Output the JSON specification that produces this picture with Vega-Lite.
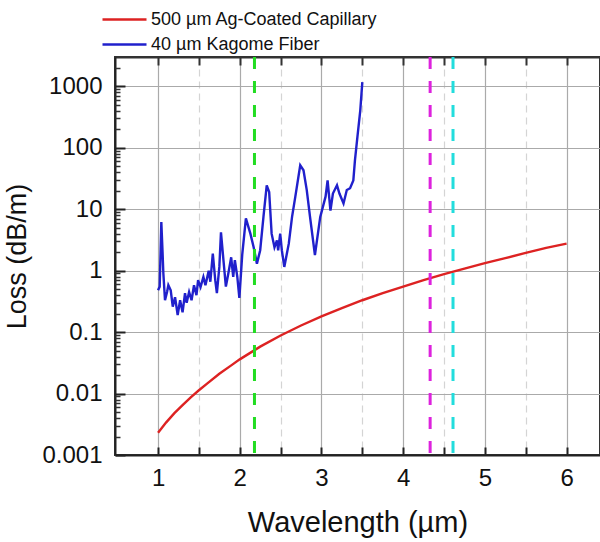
{
  "$schema": "https://vega.github.io/schema/vega-lite/v6.json",
  "autosize": {"type": "none"},
  "width": 485,
  "height": 398,
  "padding": {"left": 115, "top": 57, "right": 0, "bottom": 87},
  "background": "white",
  "config": {
    "font": "Liberation Sans",
    "view": {"stroke": "#333", "strokeWidth": 2},
    "axis": {"labelColor": "#111", "titleColor": "#111", "titleFontWeight": "normal", "labelFont": "Liberation Sans", "titleFont": "Liberation Sans"}
  },
  "datasets": {
    "curves": [
      {"series": "500 µm Ag-Coated Capillary", "wl": 1.0, "loss": 0.0023},
      {"series": "500 µm Ag-Coated Capillary", "wl": 1.1, "loss": 0.0034},
      {"series": "500 µm Ag-Coated Capillary", "wl": 1.2, "loss": 0.0048},
      {"series": "500 µm Ag-Coated Capillary", "wl": 1.3, "loss": 0.0065},
      {"series": "500 µm Ag-Coated Capillary", "wl": 1.4, "loss": 0.0087},
      {"series": "500 µm Ag-Coated Capillary", "wl": 1.5, "loss": 0.0113},
      {"series": "500 µm Ag-Coated Capillary", "wl": 1.6, "loss": 0.0145},
      {"series": "500 µm Ag-Coated Capillary", "wl": 1.75, "loss": 0.021},
      {"series": "500 µm Ag-Coated Capillary", "wl": 1.9, "loss": 0.029},
      {"series": "500 µm Ag-Coated Capillary", "wl": 2.0, "loss": 0.036},
      {"series": "500 µm Ag-Coated Capillary", "wl": 2.25, "loss": 0.058},
      {"series": "500 µm Ag-Coated Capillary", "wl": 2.5, "loss": 0.088},
      {"series": "500 µm Ag-Coated Capillary", "wl": 2.75, "loss": 0.128},
      {"series": "500 µm Ag-Coated Capillary", "wl": 3.0, "loss": 0.18},
      {"series": "500 µm Ag-Coated Capillary", "wl": 3.25, "loss": 0.245},
      {"series": "500 µm Ag-Coated Capillary", "wl": 3.5, "loss": 0.33},
      {"series": "500 µm Ag-Coated Capillary", "wl": 3.75, "loss": 0.43},
      {"series": "500 µm Ag-Coated Capillary", "wl": 4.0, "loss": 0.55},
      {"series": "500 µm Ag-Coated Capillary", "wl": 4.25, "loss": 0.70},
      {"series": "500 µm Ag-Coated Capillary", "wl": 4.5, "loss": 0.88},
      {"series": "500 µm Ag-Coated Capillary", "wl": 4.75, "loss": 1.08},
      {"series": "500 µm Ag-Coated Capillary", "wl": 5.0, "loss": 1.33},
      {"series": "500 µm Ag-Coated Capillary", "wl": 5.25, "loss": 1.6},
      {"series": "500 µm Ag-Coated Capillary", "wl": 5.5, "loss": 1.95},
      {"series": "500 µm Ag-Coated Capillary", "wl": 5.75, "loss": 2.35},
      {"series": "500 µm Ag-Coated Capillary", "wl": 6.0, "loss": 2.75},
      {"series": "40 µm Kagome Fiber", "wl": 1.0, "loss": 0.48},
      {"series": "40 µm Kagome Fiber", "wl": 1.02, "loss": 0.55},
      {"series": "40 µm Kagome Fiber", "wl": 1.04, "loss": 6.2},
      {"series": "40 µm Kagome Fiber", "wl": 1.055, "loss": 2.0},
      {"series": "40 µm Kagome Fiber", "wl": 1.065, "loss": 0.9},
      {"series": "40 µm Kagome Fiber", "wl": 1.085, "loss": 0.33},
      {"series": "40 µm Kagome Fiber", "wl": 1.11, "loss": 0.45},
      {"series": "40 µm Kagome Fiber", "wl": 1.126, "loss": 0.58},
      {"series": "40 µm Kagome Fiber", "wl": 1.155, "loss": 0.48},
      {"series": "40 µm Kagome Fiber", "wl": 1.18, "loss": 0.26},
      {"series": "40 µm Kagome Fiber", "wl": 1.208, "loss": 0.37},
      {"series": "40 µm Kagome Fiber", "wl": 1.24, "loss": 0.19},
      {"series": "40 µm Kagome Fiber", "wl": 1.27, "loss": 0.33},
      {"series": "40 µm Kagome Fiber", "wl": 1.30, "loss": 0.21},
      {"series": "40 µm Kagome Fiber", "wl": 1.33, "loss": 0.43},
      {"series": "40 µm Kagome Fiber", "wl": 1.35, "loss": 0.30},
      {"series": "40 µm Kagome Fiber", "wl": 1.38, "loss": 0.45},
      {"series": "40 µm Kagome Fiber", "wl": 1.41, "loss": 0.33},
      {"series": "40 µm Kagome Fiber", "wl": 1.44, "loss": 0.58},
      {"series": "40 µm Kagome Fiber", "wl": 1.47, "loss": 0.40},
      {"series": "40 µm Kagome Fiber", "wl": 1.49, "loss": 0.70},
      {"series": "40 µm Kagome Fiber", "wl": 1.52, "loss": 0.54},
      {"series": "40 µm Kagome Fiber", "wl": 1.555, "loss": 0.79},
      {"series": "40 µm Kagome Fiber", "wl": 1.58, "loss": 0.58},
      {"series": "40 µm Kagome Fiber", "wl": 1.62, "loss": 1.0},
      {"series": "40 µm Kagome Fiber", "wl": 1.64, "loss": 0.66},
      {"series": "40 µm Kagome Fiber", "wl": 1.67, "loss": 1.9},
      {"series": "40 µm Kagome Fiber", "wl": 1.70, "loss": 0.70},
      {"series": "40 µm Kagome Fiber", "wl": 1.72, "loss": 0.43},
      {"series": "40 µm Kagome Fiber", "wl": 1.75, "loss": 1.15},
      {"series": "40 µm Kagome Fiber", "wl": 1.77, "loss": 4.2},
      {"series": "40 µm Kagome Fiber", "wl": 1.80, "loss": 1.5},
      {"series": "40 µm Kagome Fiber", "wl": 1.83, "loss": 0.55},
      {"series": "40 µm Kagome Fiber", "wl": 1.86, "loss": 0.9},
      {"series": "40 µm Kagome Fiber", "wl": 1.895, "loss": 1.65},
      {"series": "40 µm Kagome Fiber", "wl": 1.92, "loss": 0.79},
      {"series": "40 µm Kagome Fiber", "wl": 1.94, "loss": 1.48},
      {"series": "40 µm Kagome Fiber", "wl": 1.97, "loss": 0.79},
      {"series": "40 µm Kagome Fiber", "wl": 1.995, "loss": 0.36},
      {"series": "40 µm Kagome Fiber", "wl": 2.03, "loss": 1.8},
      {"series": "40 µm Kagome Fiber", "wl": 2.075, "loss": 7.1},
      {"series": "40 µm Kagome Fiber", "wl": 2.13, "loss": 4.0},
      {"series": "40 µm Kagome Fiber", "wl": 2.17, "loss": 2.4},
      {"series": "40 µm Kagome Fiber", "wl": 2.21, "loss": 1.3},
      {"series": "40 µm Kagome Fiber", "wl": 2.25, "loss": 2.15},
      {"series": "40 µm Kagome Fiber", "wl": 2.29, "loss": 7.5},
      {"series": "40 µm Kagome Fiber", "wl": 2.33, "loss": 24.5},
      {"series": "40 µm Kagome Fiber", "wl": 2.36, "loss": 19},
      {"series": "40 µm Kagome Fiber", "wl": 2.39, "loss": 4.0},
      {"series": "40 µm Kagome Fiber", "wl": 2.425, "loss": 2.4},
      {"series": "40 µm Kagome Fiber", "wl": 2.455, "loss": 3.1},
      {"series": "40 µm Kagome Fiber", "wl": 2.47, "loss": 2.15},
      {"series": "40 µm Kagome Fiber", "wl": 2.495, "loss": 4.0},
      {"series": "40 µm Kagome Fiber", "wl": 2.515, "loss": 2.15},
      {"series": "40 µm Kagome Fiber", "wl": 2.545, "loss": 1.15},
      {"series": "40 µm Kagome Fiber", "wl": 2.60, "loss": 2.75},
      {"series": "40 µm Kagome Fiber", "wl": 2.64, "loss": 7.5},
      {"series": "40 µm Kagome Fiber", "wl": 2.68, "loss": 16},
      {"series": "40 µm Kagome Fiber", "wl": 2.74, "loss": 52},
      {"series": "40 µm Kagome Fiber", "wl": 2.78, "loss": 43},
      {"series": "40 µm Kagome Fiber", "wl": 2.82, "loss": 20.5},
      {"series": "40 µm Kagome Fiber", "wl": 2.86, "loss": 7.5},
      {"series": "40 µm Kagome Fiber", "wl": 2.92, "loss": 1.8},
      {"series": "40 µm Kagome Fiber", "wl": 2.985, "loss": 7.5},
      {"series": "40 µm Kagome Fiber", "wl": 3.05, "loss": 16},
      {"series": "40 µm Kagome Fiber", "wl": 3.075, "loss": 29.5},
      {"series": "40 µm Kagome Fiber", "wl": 3.11, "loss": 9.5},
      {"series": "40 µm Kagome Fiber", "wl": 3.14, "loss": 18},
      {"series": "40 µm Kagome Fiber", "wl": 3.19, "loss": 24.5},
      {"series": "40 µm Kagome Fiber", "wl": 3.22, "loss": 18},
      {"series": "40 µm Kagome Fiber", "wl": 3.27, "loss": 12.4},
      {"series": "40 µm Kagome Fiber", "wl": 3.31, "loss": 20.5},
      {"series": "40 µm Kagome Fiber", "wl": 3.35, "loss": 22},
      {"series": "40 µm Kagome Fiber", "wl": 3.39, "loss": 29.5},
      {"series": "40 µm Kagome Fiber", "wl": 3.41, "loss": 63},
      {"series": "40 µm Kagome Fiber", "wl": 3.44, "loss": 150},
      {"series": "40 µm Kagome Fiber", "wl": 3.475, "loss": 407},
      {"series": "40 µm Kagome Fiber", "wl": 3.50, "loss": 1170}
    ],
    "bands": [
      {"band": "2.18 µm", "wl": 2.18},
      {"band": "4.33 µm", "wl": 4.33},
      {"band": "4.61 µm", "wl": 4.61}
    ]
  },
  "resolve": {"axis": {"x": "independent", "y": "independent"}},
  "layer": [
    {
      "data": {"name": "curves"},
      "mark": {"type": "line", "strokeWidth": 2.4, "clip": true},
      "encoding": {
        "x": {
          "field": "wl", "type": "quantitative",
          "scale": {"domain": [0.473, 6.409], "nice": false, "zero": false},
          "axis": {
            "orient": "bottom",
            "values": [1, 1.5, 2, 2.5, 3, 3.5, 4, 4.5, 5, 5.5, 6],
            "labelExpr": "datum.value % 1 == 0 ? format(datum.value, 'd') : ''",
            "title": "Wavelength (µm)",
            "titleFontSize": 29,
            "titlePadding": 18,
            "labelFontSize": 24,
            "labelPadding": 19,
            "labelFlush": false,
            "tickSize": -8,
            "tickWidth": 2,
            "tickColor": "#222",
            "domainColor": "#222",
            "domainWidth": 2,
            "grid": true,
            "gridColor": {"condition": {"test": "datum.value % 1 == 0", "value": "#aaaaaa"}, "value": "#d4d4d4"},
            "gridDash": {"condition": {"test": "datum.value % 1 == 0", "value": []}, "value": [7, 5]},
            "gridWidth": 1.2
          }
        },
        "y": {
          "field": "loss", "type": "quantitative",
          "scale": {"type": "log", "domain": [0.001, 3000], "nice": false},
          "axis": {
            "orient": "left",
            "values": [0.001, 0.01, 0.1, 1, 10, 100, 1000],
            "labelExpr": "format(datum.value, '~g')",
            "title": "Loss (dB/m)",
            "titleFontSize": 27,
            "titlePadding": 10,
            "labelFontSize": 24,
            "labelPadding": 23,
            "labelFlush": false,
            "labelOverlap": false,
            "tickSize": -10,
            "tickWidth": 2,
            "tickColor": "#222",
            "domainColor": "#222",
            "domainWidth": 2,
            "grid": true,
            "gridColor": "#aaaaaa",
            "gridWidth": 1.2
          }
        },
        "color": {
          "field": "series", "type": "nominal",
          "scale": {"domain": ["500 µm Ag-Coated Capillary", "40 µm Kagome Fiber"], "range": ["#dd2222", "#2020cc"]},
          "legend": {
            "orient": "none",
            "legendX": -3,
            "legendY": -50,
            "title": null,
            "symbolType": "M-2,0H2",
            "symbolSize": 484,
            "symbolStrokeWidth": 2.5,
            "labelFontSize": 18,
            "labelLimit": 0,
            "labelColor": "#111",
            "labelOffset": 14,
            "rowPadding": 3
          }
        }
      }
    },
    {
      "data": {"name": "bands"},
      "mark": {"type": "rule", "strokeWidth": 3, "strokeDash": [12, 12]},
      "encoding": {
        "x": {"field": "wl", "type": "quantitative", "axis": null},
        "stroke": {
          "field": "band", "type": "nominal",
          "scale": {"domain": ["2.18 µm", "4.33 µm", "4.61 µm"], "range": ["#22dd22", "#dd22dd", "#22dddd"]},
          "legend": null
        }
      }
    },
    {
      "data": {"name": "curves"},
      "mark": {"type": "line", "opacity": 0},
      "encoding": {
        "x": {
          "field": "wl", "type": "quantitative",
          "axis": {
            "orient": "top",
            "values": [1, 1.5, 2, 2.5, 3, 3.5, 4, 4.5, 5, 5.5, 6],
            "labels": false, "title": null, "grid": false,
            "tickSize": -8, "tickWidth": 2, "tickColor": "#333",
            "domainColor": "#333", "domainWidth": 2
          }
        },
        "y": {
          "field": "loss", "type": "quantitative",
          "axis": {
            "orient": "left",
            "values": [0.002, 0.003, 0.004, 0.005, 0.006, 0.007, 0.008, 0.009,
                       0.02, 0.03, 0.04, 0.05, 0.06, 0.07, 0.08, 0.09,
                       0.2, 0.3, 0.4, 0.5, 0.6, 0.7, 0.8, 0.9,
                       2, 3, 4, 5, 6, 7, 8, 9,
                       20, 30, 40, 50, 60, 70, 80, 90,
                       200, 300, 400, 500, 600, 700, 800, 900,
                       2000],
            "labels": false, "title": null, "grid": false, "domain": false,
            "tickSize": -5, "tickWidth": 1.5, "tickColor": "#333"
          }
        },
        "detail": {"field": "series", "type": "nominal"}
      }
    }
  ]
}
